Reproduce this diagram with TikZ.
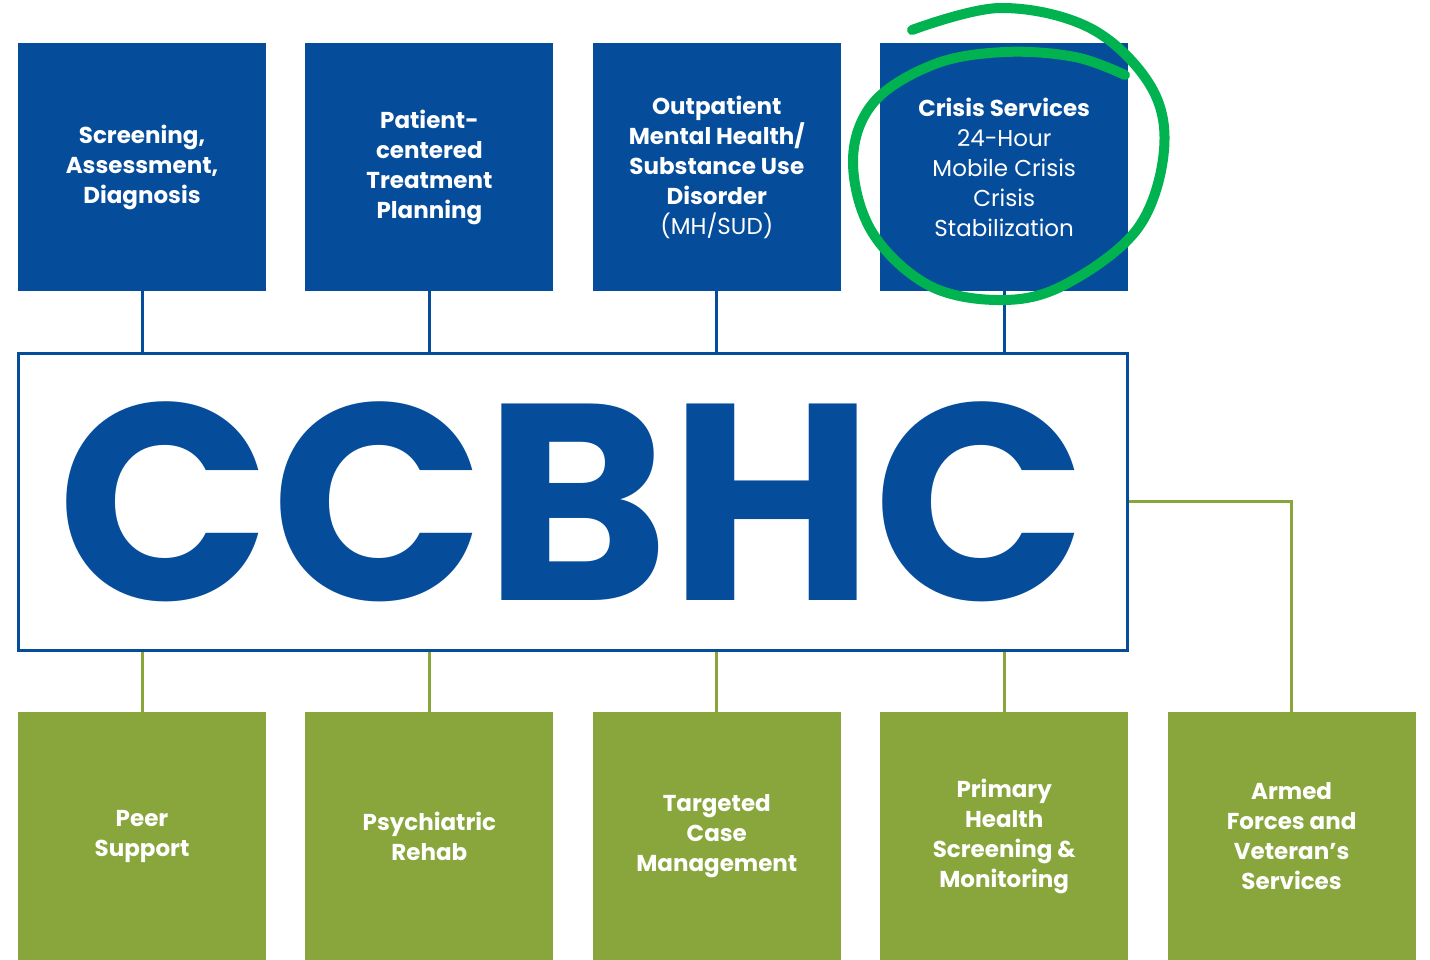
\documentclass[tikz,border=0pt]{standalone}
\usepackage{fontspec}
\setmainfont{Poppins}
\usetikzlibrary{positioning}
\definecolor{ccblue}{RGB}{5,76,155}
\definecolor{ccgreen}{RGB}{136,166,60}
\definecolor{markgreen}{RGB}{0,178,80}

\begin{document}
\begin{tikzpicture}[x=1pt, y=-1pt,
    topbox/.style = {fill=ccblue, minimum width=248pt, minimum height=248pt,
      inner sep=0pt, text=white, align=center,
      font=\fontsize{23}{30}\selectfont\bfseries},
    botbox/.style = {topbox, fill=ccgreen},
    blueline/.style = {draw=ccblue, line width=3pt},
    greenline/.style = {draw=ccgreen, line width=3pt}]
  \useasboundingbox (0,0) rectangle (1430,960);

  % top row
  \node [topbox] (screen) at (142,167) {Screening,\\Assessment,\\Diagnosis};
  \node [topbox, right=39pt of screen] (plan) {Patient-\\centered\\Treatment\\Planning};
  \node [topbox, right=39pt of plan] (outpat) {Outpatient\\Mental Health/\\Substance Use\\Disorder\\{\mdseries(MH/SUD)}};
  \node [topbox, right=39pt of outpat] (crisis) {Crisis Services\\{\mdseries 24-Hour}\\{\mdseries Mobile Crisis}\\{\mdseries Crisis}\\{\mdseries Stabilization}};

  % centre
  \node [draw=ccblue, line width=3pt, minimum width=1109pt, minimum height=297pt,
    inner sep=0pt, text=ccblue, font=\fontsize{280}{280}\selectfont\bfseries]
    (ccbhc) at (572.5,501.5) {CCBHC};

  % bottom row
  \node [botbox] (peer) at (142,836) {Peer\\Support};
  \node [botbox, right=39pt of peer] (rehab) {Psychiatric\\Rehab};
  \node [botbox, right=39pt of rehab] (casemgmt) {Targeted\\Case\\Management};
  \node [botbox, right=39pt of casemgmt] (primary) {Primary\\Health\\Screening \&\\Monitoring};
  \node [botbox, right=39pt of primary] (armed) {Armed\\Forces and\\Veteran’s\\Services};

  \foreach \n in {screen, plan, outpat, crisis}
    \draw [blueline] (\n.south) -- (\n.south |- ccbhc.north);
  \foreach \n in {peer, rehab, casemgmt, primary}
    \draw [greenline] (\n.north) -- (\n.north |- ccbhc.south);
  \draw [greenline] (ccbhc.east) -| (armed.north);

  % hand drawn mark
  \draw [markgreen, line width=10pt, line cap=round]
    plot [smooth, tension=0.6] coordinates {(912,30) (1000,8) (1090,28) (1150,85)
      (1164,150) (1138,228) (1068,283) (1005,300) (930,286) (872,232) (853,160)
      (874,102) (935,64) (1005,52) (1075,57) (1125,75)};
\end{tikzpicture}
\end{document}
